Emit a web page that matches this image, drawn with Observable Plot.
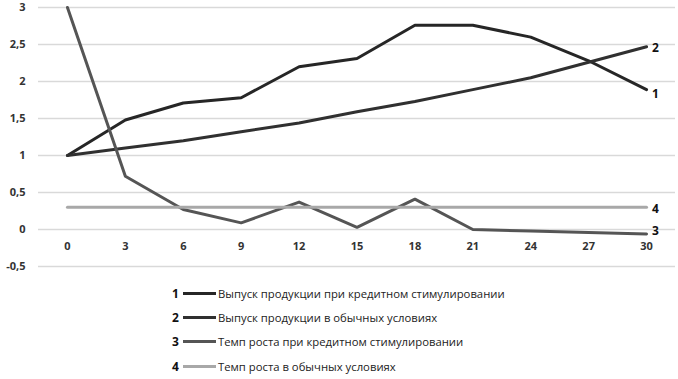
<!DOCTYPE html>
<html>
<head>
<meta charset="utf-8">
<script src="https://cdn.jsdelivr.net/npm/d3@7"></script>
<script src="https://cdn.jsdelivr.net/npm/@observablehq/plot@0.6"></script>
<style>
  html, body { margin: 0; padding: 0; background: #fff; }
  #chart { width: 678px; }
  .legend { font-family: "Open Sans", sans-serif; font-size: 11.3px; color: #222; margin-left: 172px; margin-top: 9px; }
  .legend .row { display: flex; align-items: center; height: 24.3px; }
  .legend .num { width: 11px; font-weight: 700; color: #111; font-size: 12px; }
  .legend .sw { width: 33px; height: 3px; margin-right: 2px; }
</style>
</head>
<body>
<div id="chart"></div>
<script>
const xValues = [0, 3, 6, 9, 12, 15, 18, 21, 24, 27, 30];
const seriesIds = ["1", "2", "3", "4"];
const seriesNames = [
  "Выпуск продукции при кредитном стимулировании",
  "Выпуск продукции в обычных условиях",
  "Темп роста при кредитном стимулировании",
  "Темп роста в обычных условиях"
];
const series1 = [1, 1.48, 1.71, 1.78, 2.2, 2.31, 2.76, 2.76, 2.6, 2.28, 1.89];
const series2 = [1, 1.1, 1.2, 1.32, 1.44, 1.59, 1.73, 1.89, 2.05, 2.26, 2.47];
const series3 = [3, 0.72, 0.27, 0.09, 0.37, 0.03, 0.41, 0.0, -0.02, -0.04, -0.06];
const series4 = [0.3, 0.3, 0.3, 0.3, 0.3, 0.3, 0.3, 0.3, 0.3, 0.3, 0.3];
const yTicks = [-0.5, 0, 0.5, 1, 1.5, 2, 2.5, 3];
const colors = ["#262626", "#303030", "#555555", "#a8a8a8"];
const labelDy = [5, 1, -3, 2];

const allSeries = [series1, series2, series3, series4];
const rows = [];
allSeries.forEach((vals, i) => vals.forEach((v, j) => rows.push({x: xValues[j], y: v, series: seriesIds[i]})));

const fmt = d => String(d).replace(".", ",");

const chart = Plot.plot({
  width: 678,
  height: 272,
  marginLeft: 38,
  marginRight: 3,
  marginTop: 7,
  marginBottom: 6,
  style: {fontFamily: "'Open Sans', sans-serif", fontSize: "11px", color: "#222", background: "#fff"},
  x: {domain: [-1.5, 31.5], axis: null},
  y: {domain: [-0.5, 3], axis: null},
  color: {domain: seriesIds, range: colors},
  marks: [
    Plot.ruleY(yTicks, {stroke: "#d9d9d9", strokeWidth: 1.5}),
    Plot.axisY(yTicks, {tickSize: 0, tickPadding: 13, tickFormat: fmt, fontWeight: 700, fill: "#333", label: null}),
    Plot.text(xValues, {x: d => d, y: 0, dy: 17, text: d => String(d), fontWeight: 700, fill: "#333"}),
    Plot.line(rows, {x: "x", y: "y", z: "series", stroke: "series", strokeWidth: 3, strokeLinejoin: "round"}),
    ...seriesIds.map((id, i) => Plot.text(rows.filter(r => r.series === id), Plot.selectLast({x: "x", y: "y", text: "series", dx: 9, dy: labelDy[i], fontWeight: 700, fill: "#111", fontSize: 12})))
  ]
});
document.getElementById("chart").appendChild(chart);

const legend = document.createElement("div");
legend.className = "legend";
seriesIds.forEach((id, i) => {
  const row = document.createElement("div");
  row.className = "row";
  row.innerHTML = `<span class="num">${id}</span><span class="sw" style="background:${colors[i]}"></span><span>${seriesNames[i]}</span>`;
  legend.appendChild(row);
});
document.body.appendChild(legend);
</script>
</body>
</html>
